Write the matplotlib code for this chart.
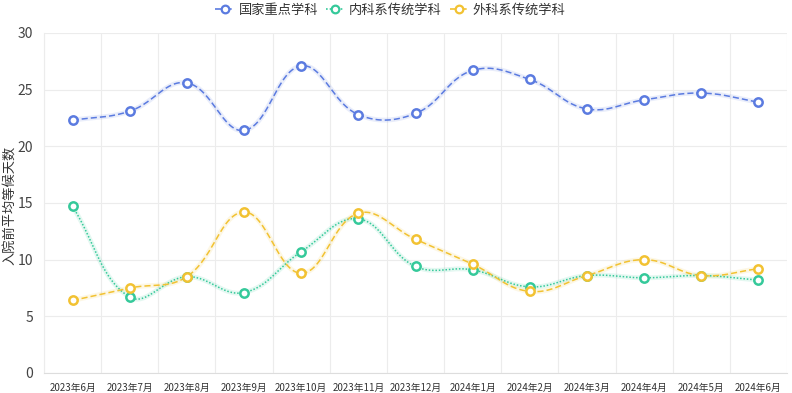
import numpy as np
import matplotlib
matplotlib.use("Agg")
import matplotlib.pyplot as plt
from matplotlib.lines import Line2D

plt.rcParams['font.family'] = ['Noto Sans CJK SC', 'DejaVu Sans']

months = ["2023年6月", "2023年7月", "2023年8月", "2023年9月", "2023年10月", "2023年11月",
          "2023年12月", "2024年1月", "2024年2月", "2024年3月", "2024年4月", "2024年5月", "2024年6月"]
key_dept = [22.3, 23.1, 25.6, 21.4, 27.1, 22.8, 22.9, 26.7, 25.9, 23.3, 24.1, 24.7, 23.9]
internal = [14.7, 6.7, 8.5, 7.1, 10.7, 13.6, 9.4, 9.1, 7.6, 8.6, 8.4, 8.6, 8.2]
surgical = [6.4, 7.5, 8.5, 14.2, 8.8, 14.1, 11.8, 9.6, 7.2, 8.6, 10.0, 8.6, 9.2]
series_names = ["国家重点学科", "内科系传统学科", "外科系传统学科"]
colors = ["#5b7be0", "#35c99a", "#f2c232"]
styles = [(0, (4, 2)), (0, (1, 1.2)), (0, (4, 2))]

W, H = 792, 393
fig = plt.figure(figsize=(W / 100, H / 100), dpi=100)
ax = fig.add_axes([44 / W, 1 - 373 / H, (787 - 44) / W, (373 - 33) / H])

xs_px, ys_px = 57.25, 11.33


def smooth_curve(x, y, smooth=0.4, n=30):
    x = np.asarray(x, float)
    y = np.asarray(y, float)
    px, py = x * xs_px, y * ys_px
    N = len(x)
    cp0 = np.zeros((N, 2))
    cp1 = np.zeros((N, 2))
    for i in range(N):
        p = np.array([px[i], py[i]])
        prev = np.array([px[i - 1], py[i - 1]]) if i > 0 else p
        nxt = np.array([px[i + 1], py[i + 1]]) if i < N - 1 else p
        v = nxt - prev
        d0 = np.hypot(*(p - prev))
        d1 = np.hypot(*(p - nxt))
        s = d0 + d1
        if s > 0:
            d0 /= s
            d1 /= s
        cp0[i] = p - v * smooth * d0
        cp1[i] = p + v * smooth * d1
    out = []
    t = np.linspace(0, 1, n)[:, None]
    for i in range(N - 1):
        P0 = np.array([px[i], py[i]])
        P3 = np.array([px[i + 1], py[i + 1]])
        P1, P2 = cp1[i], cp0[i + 1]
        seg = (1 - t) ** 3 * P0 + 3 * (1 - t) ** 2 * t * P1 + 3 * (1 - t) * t ** 2 * P2 + t ** 3 * P3
        out.append(seg if i == 0 else seg[1:])
    out = np.vstack(out)
    return out[:, 0] / xs_px, out[:, 1] / ys_px


xpos = np.arange(len(months))
for vals, c, ls in zip([key_dept, internal, surgical], colors, styles):
    cx, cy = smooth_curve(xpos, vals)
    ax.plot(cx, cy, color=c, lw=3.5, alpha=0.13, solid_capstyle='round', zorder=2)
    ax.plot(cx, cy, color=c, lw=1.1, linestyle=ls, zorder=3)
    ax.plot(xpos, vals, linestyle='none', marker='o', ms=6, mfc='white', mec=c, mew=1.8, zorder=4)

ax.set_xlim(-0.5, len(months) - 0.5)
ax.set_ylim(0, 30)
ax.set_yticks([0, 5, 10, 15, 20, 25, 30])
ax.set_xticks(xpos)
ax.set_xticklabels(months, fontsize=7, color='#333333')
ax.tick_params(axis='y', labelsize=10, colors='#444444', length=0, pad=8)
ax.tick_params(axis='x', length=0, pad=7)
ax.set_xticks(np.arange(-0.5, len(months), 1), minor=True)
ax.tick_params(axis='x', which='minor', length=0)
ax.grid(False)
ax.grid(True, which='minor', axis='x', color='#ececec', lw=0.8)
ax.grid(True, which='major', axis='y', color='#ececec', lw=0.8)
for s in ['top', 'right', 'left']:
    ax.spines[s].set_visible(False)
ax.spines['bottom'].set_color('#dddddd')
ax.spines['left'].set_visible(True)
ax.spines['left'].set_color('#ececec')
fig.text(11 / W, 1 - 205 / H, "入院前平均等候天数", rotation=90, fontsize=9.5, color='#333333',
         ha='center', va='center')
ax.set_axisbelow(True)

handles = [Line2D([0], [0], color=c, lw=1.2, linestyle=ls, marker='o', ms=5.5,
                  mfc='white', mec=c, mew=1.6) for c, ls in zip(colors, styles)]
fig.legend(handles, series_names, loc='upper center', bbox_to_anchor=(0.493, 1.02), ncol=3,
           frameon=False, fontsize=9.5, handlelength=1.4, handletextpad=0.35, columnspacing=0.6,
           labelcolor='#333333')

fig.savefig("out.png", dpi=100, facecolor='white')
